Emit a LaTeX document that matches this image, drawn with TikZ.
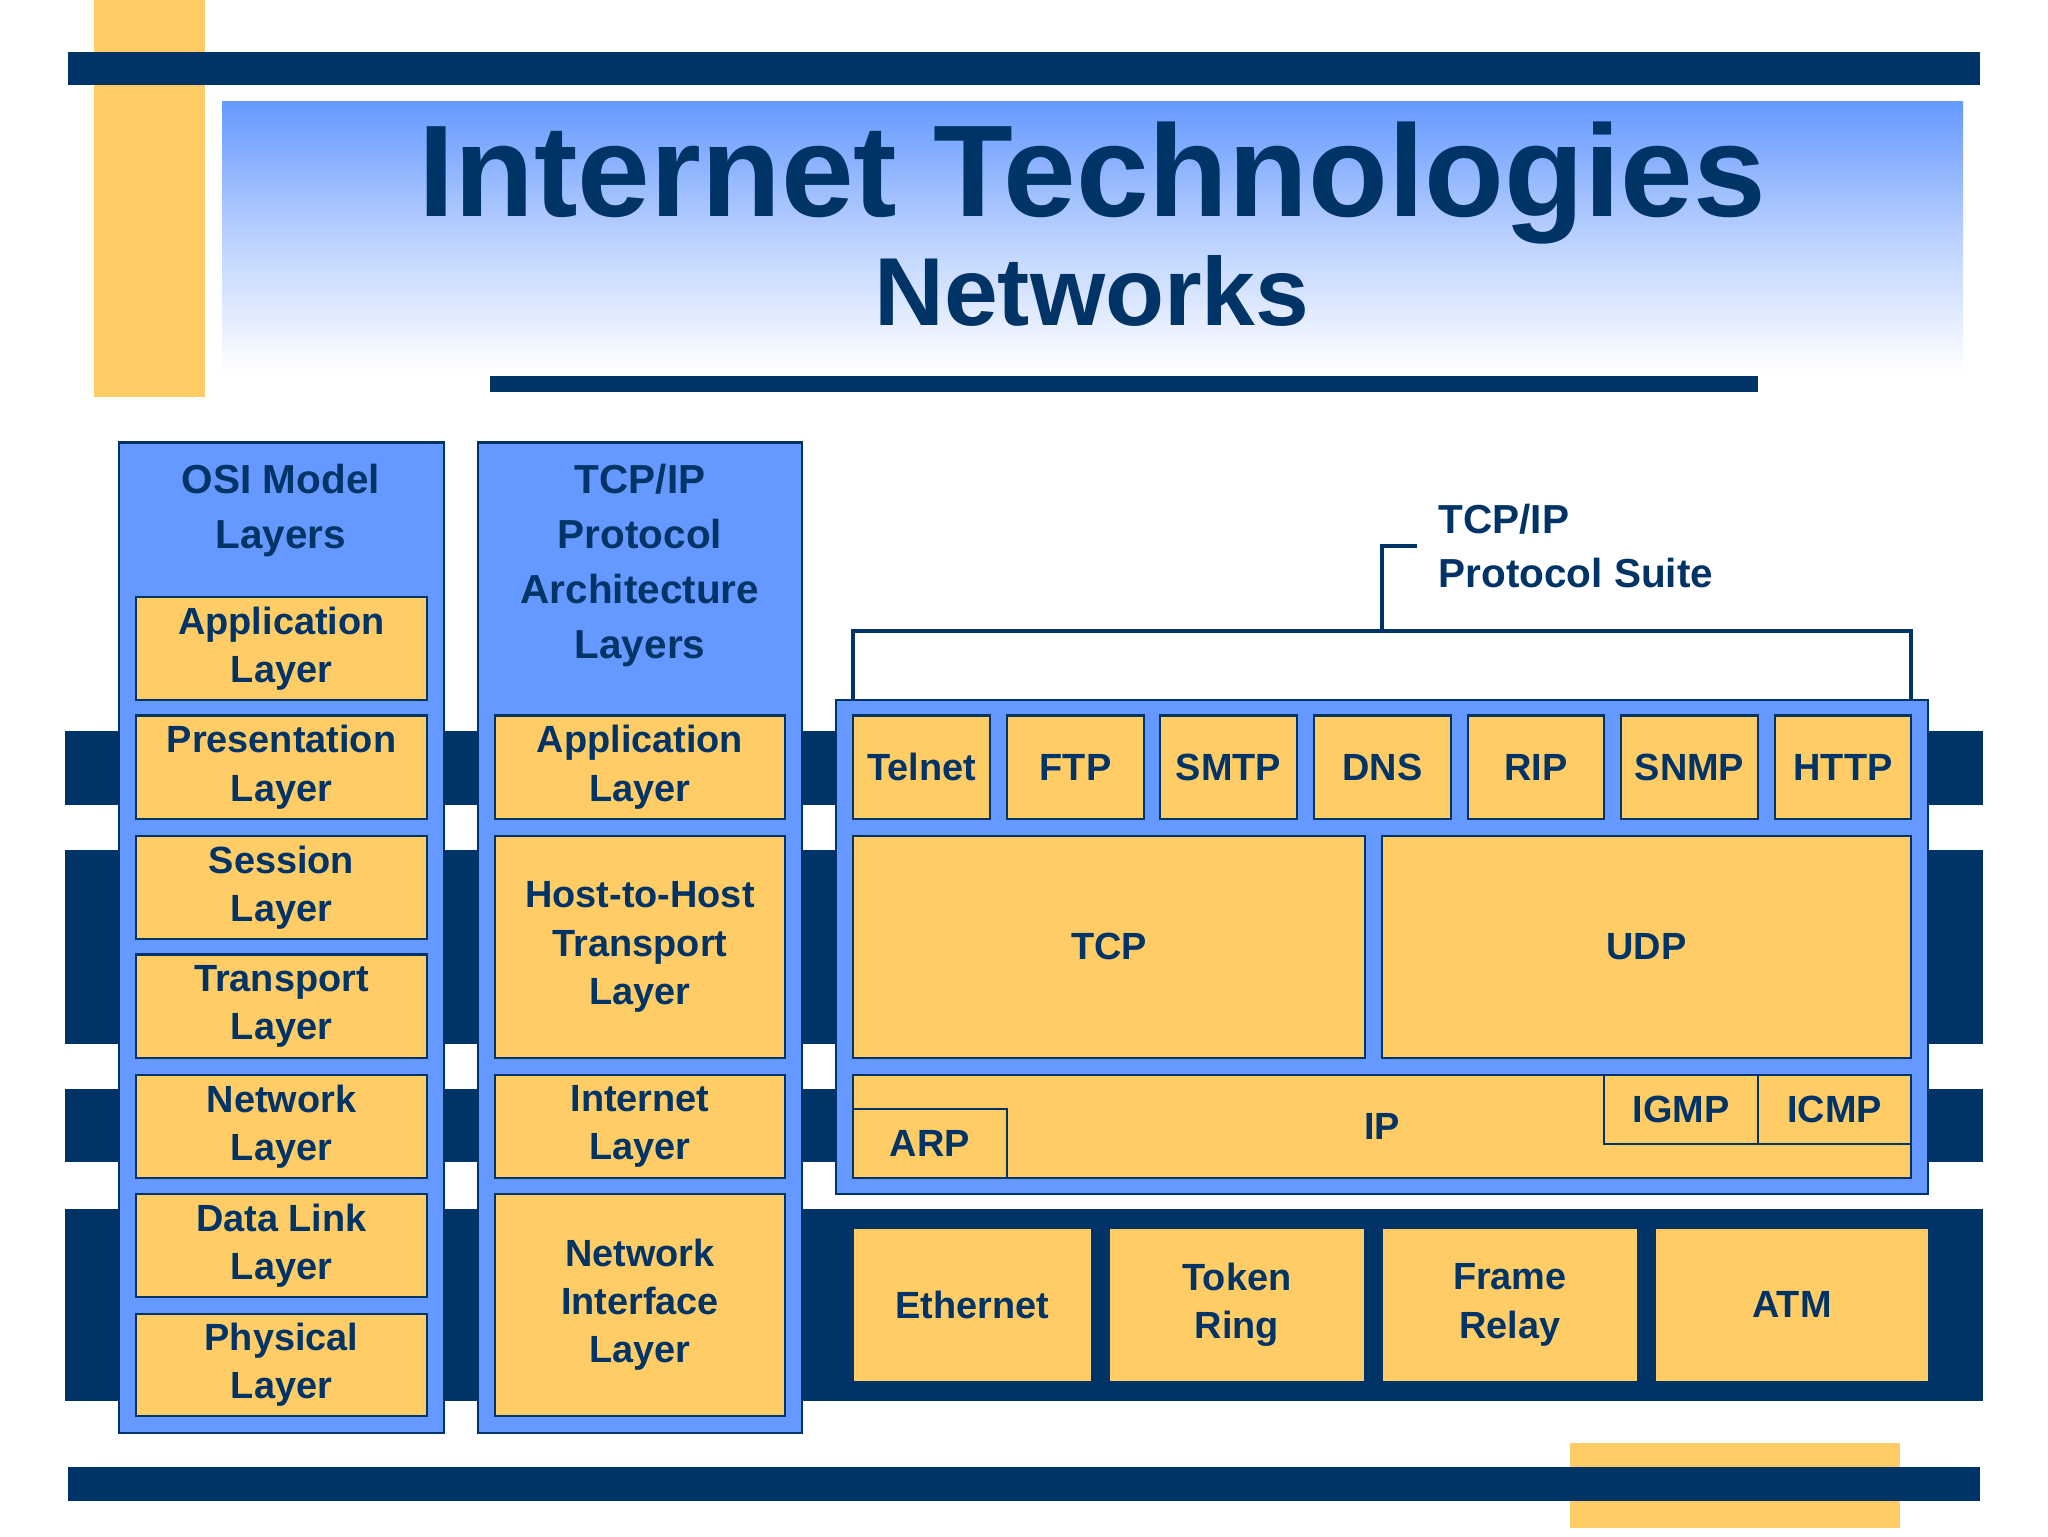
\documentclass[tikz,border=0pt]{standalone}
\usepackage{fontspec}
\setmainfont{Liberation Sans}
\definecolor{navy}{RGB}{0,51,102}
\definecolor{lblue}{RGB}{102,153,255}
\definecolor{org}{RGB}{255,204,102}
\tikzset{
 ob/.style={draw=navy,line width=2pt,fill=org,text=navy,align=center,inner sep=0pt,
   font=\fontsize{29}{37}\selectfont\bfseries},
 nb/.style={draw=none,fill=org,text=navy,align=center,inner sep=0pt,
   font=\fontsize{29}{37}\selectfont\bfseries},
 bb/.style={draw=navy,line width=2pt,fill=lblue},
 lbl/.style={text=navy,align=center,font=\fontsize{31}{42}\selectfont\bfseries}
}
\newcommand\bx[7][ob]{\node[#1,minimum width={(#4-#2)*1pt},minimum height={(#5-#3)*1pt}] (#7) at ({(#2+#4)/2},{(#3+#5)/2}) {#6};}
\begin{document}
\begin{tikzpicture}[x=1pt,y=-1pt]
\useasboundingbox (0,0) rectangle (1568,1176);
\fill[white] (0,0) rectangle (1568,1176);
\fill[org] (72,0) rectangle (157,304);
\fill[navy] (52,40) rectangle (1516,65);
\shade[top color=lblue,bottom color=white,middle color=lblue!45] (170,78) rectangle (1503,285);
\node[text=navy,font=\fontsize{100}{100}\selectfont\bfseries] (t1) at (836,140) {Internet Technologies};
\node[text=navy,font=\fontsize{74}{74}\selectfont\bfseries] (t2) at (836,223) {Networks};
\fill[navy] (375,288) rectangle (1346,300);
% stripes
\foreach \a/\b in {560/616,651/799,834/890,926/1073}{\fill[navy] (50,\a) rectangle (1518,\b);}
\fill[org] (1202,1105) rectangle (1455,1170);
\fill[navy] (52,1123) rectangle (1516,1149);
% OSI
\draw[bb] (91,339) rectangle (340,1097);
\node[lbl] (osi) at (215,391) {OSI Model\\Layers};
\bx{104}{457}{327}{536}{Application\\Layer}{o1}
\bx{104}{548}{327}{627}{Presentation\\Layer}{o2}
\bx{104}{640}{327}{719}{Session\\Layer}{o3}
\bx{104}{731}{327}{810}{Transport\\Layer}{o4}
\bx{104}{823}{327}{902}{Network\\Layer}{o5}
\bx{104}{914}{327}{993}{Data Link\\Layer}{o6}
\bx{104}{1006}{327}{1084}{Physical\\Layer}{o7}
% TCP/IP
\draw[bb] (366,339) rectangle (614,1097);
\node[lbl] (tcpt) at (490,433) {TCP/IP\\Protocol\\Architecture\\Layers};
\bx{379}{548}{601}{627}{Application\\Layer}{a1}
\bx{379}{640}{601}{810}{Host-to-Host\\Transport\\Layer}{a2}
\bx{379}{823}{601}{902}{Internet\\Layer}{a3}
\bx{379}{914}{601}{1084}{Network\\Interface\\Layer}{a4}
% suite
\draw[bb] (640,536) rectangle (1476,914);
\bx{653}{548}{758}{627}{Telnet}{p1}
\bx{771}{548}{876}{627}{FTP}{p2}
\bx{888}{548}{993}{627}{SMTP}{p3}
\bx{1006}{548}{1111}{627}{DNS}{p4}
\bx{1124}{548}{1228}{627}{RIP}{p5}
\bx{1241}{548}{1346}{627}{SNMP}{p6}
\bx{1359}{548}{1463}{627}{HTTP}{p7}
\bx{653}{640}{1045}{810}{TCP}{tcp}
\bx{1058}{640}{1463}{810}{UDP}{udp}
\bx{653}{823}{1463}{902}{IP}{ip}
\bx{653}{849}{771}{902}{ARP}{arp}
\bx{1228}{823}{1346}{876}{IGMP}{igmp}
\bx{1346}{823}{1463}{876}{ICMP}{icmp}
% bracket
\coordinate (bl) at (653,536); \coordinate (br) at (1463,536);
\coordinate (st) at (1058,483); \coordinate (sk) at (1085,418);
\draw[navy,line width=3.5pt] (bl) -- ++(0,-53) -| (br);
\draw[navy,line width=3.5pt] (st) |- (sk);
\node[lbl,align=left,anchor=west] (suite) at (1098,418) {TCP/IP\\Protocol Suite};
% bottom
\bx[nb]{654}{941}{835}{1057}{Ethernet}{e1}
\bx[nb]{850}{941}{1044}{1057}{Token\\Ring}{e2}
\bx[nb]{1059}{941}{1253}{1057}{Frame\\Relay}{e3}
\bx[nb]{1268}{941}{1476}{1057}{ATM}{e4}
\end{tikzpicture}
\end{document}
